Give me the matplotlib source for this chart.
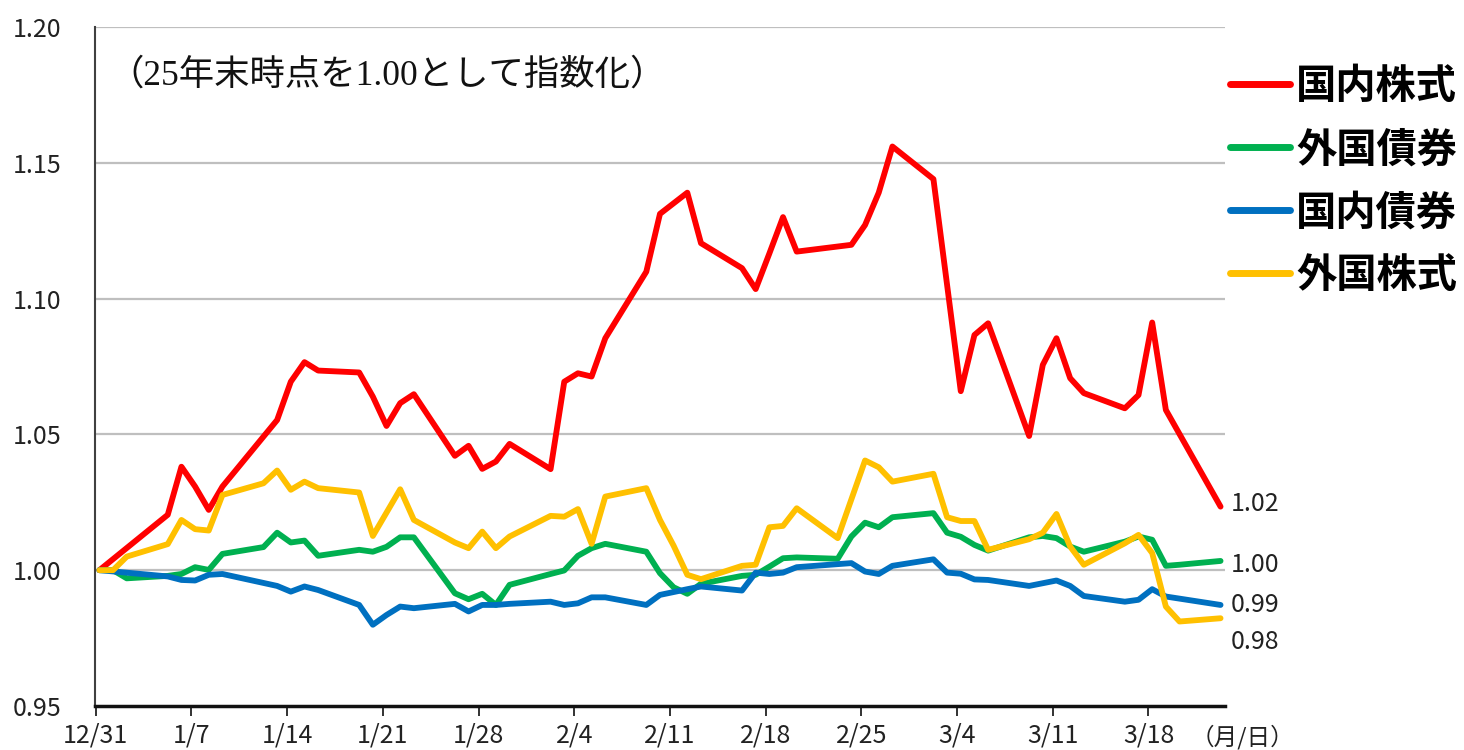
import matplotlib
matplotlib.use("Agg")
import matplotlib.pyplot as plt
import numpy as np
import pandas as pd

plt.rcParams['font.family'] = ['Noto Sans CJK JP', 'DejaVu Sans']

# ---- data ----
# Japanese business days (domestic series)
domestic_dates = ["12/31",
                  "1/5", "1/6", "1/7", "1/8", "1/9",
                  "1/13", "1/14", "1/15", "1/16",
                  "1/19", "1/20", "1/21", "1/22", "1/23",
                  "1/26", "1/27", "1/28", "1/29", "1/30",
                  "2/2", "2/3", "2/4", "2/5", "2/6",
                  "2/9", "2/10", "2/12", "2/13",
                  "2/16", "2/17", "2/18", "2/19", "2/20",
                  "2/24", "2/25", "2/26", "2/27",
                  "3/2", "3/3", "3/4", "3/5", "3/6",
                  "3/9", "3/10", "3/11", "3/12", "3/13",
                  "3/16", "3/17", "3/18", "3/19",
                  "3/23"]
# all weekdays (foreign series)
foreign_dates = ["12/31", "1/1", "1/2",
                 "1/5", "1/6", "1/7", "1/8", "1/9",
                 "1/12", "1/13", "1/14", "1/15", "1/16",
                 "1/19", "1/20", "1/21", "1/22", "1/23",
                 "1/26", "1/27", "1/28", "1/29", "1/30",
                 "2/2", "2/3", "2/4", "2/5", "2/6",
                 "2/9", "2/10", "2/11", "2/12", "2/13",
                 "2/16", "2/17", "2/18", "2/19", "2/20",
                 "2/23", "2/24", "2/25", "2/26", "2/27",
                 "3/2", "3/3", "3/4", "3/5", "3/6",
                 "3/9", "3/10", "3/11", "3/12", "3/13",
                 "3/16", "3/17", "3/18", "3/19", "3/20",
                 "3/23"]

jp_equity = [1.000,
             1.0204, 1.0381, 1.0308, 1.0222, 1.0308,
             1.0553, 1.0694, 1.0766, 1.0735,
             1.0728, 1.0639, 1.0531, 1.0615, 1.0648,
             1.0421, 1.0458, 1.0373, 1.0400, 1.0465,
             1.0372, 1.0694, 1.0725, 1.0713, 1.0854,
             1.1099, 1.1312, 1.1390, 1.1204,
             1.1112, 1.1035, 1.1166, 1.1300, 1.1173,
             1.1198, 1.1271, 1.1390, 1.1560,
             1.1440, 1.1050, 1.0659, 1.0866, 1.0909,
             1.0494, 1.0756, 1.0854, 1.0707, 1.0652,
             1.0596, 1.0645, 1.0912, 1.0590,
             1.0234]

jp_bond = [1.000,
           0.9977, 0.9964, 0.9962, 0.9983, 0.9986,
           0.9942, 0.9921, 0.9940, 0.9927,
           0.9872, 0.9799, 0.9835, 0.9866, 0.9860,
           0.9876, 0.9848, 0.9872, 0.9872, 0.9876,
           0.9884, 0.9872, 0.9878, 0.9900, 0.9900,
           0.9872, 0.9909, 0.9930, 0.9940,
           0.9925, 0.9991, 0.9986, 0.9991, 1.0011,
           1.0026, 0.9995, 0.9986, 1.0016,
           1.0040, 0.9991, 0.9987, 0.9966, 0.9964,
           0.9942, 0.9952, 0.9962, 0.9942, 0.9905,
           0.9884, 0.9891, 0.9930, 0.9903,
           0.9872]

fx_bond = [1.000, 1.000, 0.9970,
           0.9979, 0.9986, 1.0011, 1.0001, 1.0060,
           1.0085, 1.0138, 1.0102, 1.0109, 1.0053,
           1.0075, 1.0068, 1.0086, 1.0121, 1.0121,
           0.9915, 0.9893, 0.9913, 0.9872, 0.9946,
           0.9986, 0.9999, 1.0053, 1.0081, 1.0097,
           1.0068, 0.9989, 0.9937, 0.9913, 0.9950,
           0.9979, 0.9983, 1.0013, 1.0044, 1.0047,
           1.0042, 1.0124, 1.0175, 1.0158, 1.0195,
           1.0210, 1.0138, 1.0123, 1.0093, 1.0072,
           1.0121, 1.0126, 1.0118, 1.0087, 1.0068,
           1.0105, 1.0124, 1.0112, 1.0016, 1.0020,
           1.0034]

fx_equity = [1.000, 1.000, 1.0050,
             1.0096, 1.0185, 1.0151, 1.0146, 1.0277,
             1.0320, 1.0367, 1.0296, 1.0326, 1.0302,
             1.0286, 1.0126, 1.0212, 1.0298, 1.0185,
             1.0102, 1.0081, 1.0142, 1.0081, 1.0124,
             1.0200, 1.0197, 1.0225, 1.0097, 1.0271,
             1.0302, 1.0185, 1.0090, 0.9983, 0.9967,
             1.0016, 1.0020, 1.0158, 1.0163, 1.0228,
             1.0118, 1.0261, 1.0404, 1.0379, 1.0326,
             1.0355, 1.0195, 1.0181, 1.0181, 1.0075,
             1.0114, 1.0138, 1.0207, 1.0087, 1.0020,
             1.0099, 1.0130, 1.0063, 0.9866, 0.9811,
             0.9823]

tick_labels = ["12/31", "1/7", "1/14", "1/21", "1/28", "2/4",
               "2/11", "2/18", "2/25", "3/4", "3/11", "3/18"]
y_ticks = [0.95, 1.00, 1.05, 1.10, 1.15, 1.20]

series_names = ["国内株式", "外国債券", "国内債券", "外国株式"]
series_colors = ["#FF0000", "#00B050", "#0070C0", "#FFC000"]
end_label_offsets = [1.6, -2.9, -0.2, -17.4]   # points, to keep end labels apart

note_text = "（25年末時点を1.00として指数化）"
unit_text = "（月/日）"

# ---- helpers ----
base = pd.Timestamp("2025-12-31")


def to_days(labels):
    out = []
    for s in labels:
        m, d = (int(v) for v in s.split("/"))
        year = 2025 if m == 12 else 2026
        out.append((pd.Timestamp(year=year, month=m, day=d) - base).days)
    return np.array(out, dtype=float)


x_dom = to_days(domestic_dates)
x_for = to_days(foreign_dates)

fig = plt.figure(figsize=(14.64, 7.5), dpi=100)
ax = fig.add_axes([0.0649, 0.0587, 0.7718, 0.9053])

series = [(x_dom, jp_equity), (x_for, fx_bond), (x_dom, jp_bond), (x_for, fx_equity)]
lines = []
for (xs, ys), name, col in zip(series, series_names, series_colors):
    ln, = ax.plot(xs, ys, color=col, lw=4.2, label=name,
                  solid_joinstyle="round", solid_capstyle="round", zorder=3)
    lines.append(ln)

# end labels
for (xs, ys), off in zip(series, end_label_offsets):
    ax.annotate(f"{ys[-1]:.2f}", xy=(xs[-1], ys[-1]), xytext=(7, off),
                textcoords="offset points", ha="left", va="center",
                fontsize=18, color="#222222", annotation_clip=False)

ax.set_xlim(-0.32, 82.32)
ax.set_ylim(0.95, 1.20)

ax.set_xticks(to_days(tick_labels) - 0.27)
ax.set_xticklabels(tick_labels)
ax.set_yticks(y_ticks)
ax.set_yticklabels([f"{v:.2f}" for v in y_ticks])

ax.tick_params(axis="x", direction="out", length=7, width=1.3, color="#222222",
               labelsize=18, pad=5, labelcolor="#222222")
ax.tick_params(axis="y", length=0, labelsize=18, pad=24, labelcolor="#222222")

for v in y_ticks[1:]:
    ax.axhline(v, color="#BFBFBF", lw=1.6, zorder=1)

for s in ["top", "right"]:
    ax.spines[s].set_visible(False)
ax.spines["left"].set_color("#404040")
ax.spines["left"].set_linewidth(1.5)
ax.spines["bottom"].set_color("#111111")
ax.spines["bottom"].set_linewidth(2.5)

# unit label for the x axis
ax.text(0.970, -0.046, unit_text, transform=ax.transAxes, ha="left", va="center",
        fontsize=17, color="#222222")

# note
fig.text(0.074, 0.899, note_text, ha="left", va="center", fontsize=25.5,
         family=["Liberation Serif", "Noto Sans CJK JP"], color="#111111")

leg = fig.legend(handles=lines, labels=series_names, loc="upper left",
                 bbox_to_anchor=(0.840, 0.912), frameon=False,
                 prop={"family": ["Noto Sans CJK JP"], "weight": "bold", "size": 29},
                 handlelength=1.5, handletextpad=0.15, labelspacing=0.55,
                 borderaxespad=0, borderpad=0)
for h in leg.legend_handles:
    h.set_linewidth(5)

fig.savefig("out.png", dpi=100)
